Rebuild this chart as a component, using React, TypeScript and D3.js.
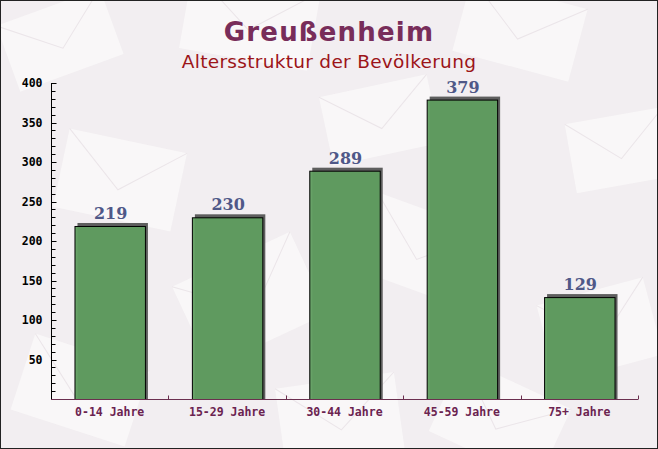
import React, { useEffect, useRef } from 'react';
import * as d3 from 'd3';

const categories = ['0-14 Jahre', '15-29 Jahre', '30-44 Jahre', '45-59 Jahre', '75+ Jahre'];
const values = [219, 230, 289, 379, 129];
const majorTicks = [50, 100, 150, 200, 250, 300, 350, 400];
const title = 'Greußenheim';
const subtitle = 'Altersstruktur der Bevölkerung';

// faint envelope shapes in the background: [cx, cy, w, h, angle]
const envelopes = [
  [60, 40, 110, 70, -20], [250, 20, 130, 80, 10], [520, 30, 120, 75, 15], [620, 150, 100, 70, -10],
  [120, 180, 120, 80, 12], [250, 300, 130, 90, -25], [420, 250, 120, 80, 20], [600, 330, 110, 80, -15],
  [80, 390, 120, 80, 18], [340, 420, 120, 80, -8], [500, 420, 120, 80, 25], [380, 120, 110, 70, -12],
];

export default function App() {
  const ref = useRef<SVGSVGElement>(null);

  useEffect(() => {
    if (!ref.current) return;
    const svg = d3.select(ref.current);
    svg.selectAll('*').remove();

    const width = 658;
    const height = 449;
    const margin = { top: 83, right: 20, bottom: 50, left: 51 };

    svg.append('rect').attr('width', width).attr('height', height).attr('fill', '#f2eef1');

    const bg = svg.append('g');
    envelopes.forEach(([cx, cy, w, h, a]) => {
      const g = bg.append('g').attr('transform', `translate(${cx},${cy}) rotate(${a})`);
      g.append('rect')
        .attr('x', -w / 2).attr('y', -h / 2).attr('width', w).attr('height', h)
        .attr('fill', '#fbf9fa').attr('opacity', 0.75);
      g.append('path')
        .attr('d', `M${-w / 2},${-h / 2} L0,${h / 8} L${w / 2},${-h / 2}`)
        .attr('fill', 'none').attr('stroke', '#ebe5e9').attr('stroke-width', 1);
    });

    const x = d3.scaleBand()
      .domain(categories)
      .range([margin.left, width - margin.right])
      .paddingInner(0.4)
      .paddingOuter(0.2);

    const y = d3.scaleLinear()
      .domain([0, 400])
      .range([height - margin.bottom, margin.top]);

    // bars with shadow
    const bars = svg.append('g');
    categories.forEach((c, i) => {
      const bx = x(c)!;
      const by = y(values[i]);
      const bw = x.bandwidth();
      const bh = y(0) - by;
      bars.append('rect')
        .attr('x', bx + 3).attr('y', by - 3)
        .attr('width', bw).attr('height', bh + 3)
        .attr('fill', '#5e5e5e');
      bars.append('rect')
        .attr('x', bx + 0.5).attr('y', by + 0.5)
        .attr('width', bw).attr('height', bh)
        .attr('fill', '#5f9d5f').attr('fill-opacity', 0.95)
        .attr('stroke', '#000').attr('stroke-width', 1);
      bars.append('text')
        .attr('x', bx + bw / 2 + 1).attr('y', by - 7)
        .attr('text-anchor', 'middle')
        .attr('font-family', '"DejaVu Serif", serif')
        .attr('font-weight', 'bold')
        .attr('font-size', 16)
        .attr('fill', '#4f5888')
        .text(values[i]);
    });

    // y axis
    const yAxis = svg.append('g').attr('transform', `translate(${margin.left + 0.5},0)`);
    yAxis.append('line')
      .attr('x1', 0).attr('x2', 0).attr('y1', y(400)).attr('y2', y(0))
      .attr('stroke', '#000');
    yAxis.selectAll('line.minor')
      .data(d3.range(10, 400, 10).filter(v => v % 50 !== 0))
      .join('line')
      .attr('class', 'minor')
      .attr('x1', 0).attr('x2', 4)
      .attr('y1', d => Math.round(y(d)) + 0.5).attr('y2', d => Math.round(y(d)) + 0.5)
      .attr('stroke', '#000');
    yAxis.selectAll('line.major')
      .data(majorTicks)
      .join('line')
      .attr('class', 'major')
      .attr('x1', 0).attr('x2', 5)
      .attr('y1', d => Math.round(y(d)) + 0.5).attr('y2', d => Math.round(y(d)) + 0.5)
      .attr('stroke', '#000');
    yAxis.selectAll('text')
      .data(majorTicks)
      .join('text')
      .attr('x', -9).attr('y', d => y(d) + 4)
      .attr('text-anchor', 'end')
      .attr('font-family', '"DejaVu Sans Mono", monospace')
      .attr('font-weight', 'bold')
      .attr('font-size', 11.5)
      .attr('fill', '#000')
      .text(d => d);

    // x axis
    const xAxis = svg.append('g').attr('transform', `translate(0,${y(0) + 0.5})`);
    xAxis.append('line')
      .attr('x1', margin.left).attr('x2', width - margin.right)
      .attr('stroke', '#6b2f4f');
    const bounds = d3.range(1, categories.length + 1)
      .map(i => margin.left + i * (width - margin.left - margin.right) / categories.length);
    xAxis.selectAll('line.tick')
      .data(bounds)
      .join('line')
      .attr('class', 'tick')
      .attr('x1', d => Math.round(d) + 0.5).attr('x2', d => Math.round(d) + 0.5)
      .attr('y1', 0).attr('y2', -4)
      .attr('stroke', '#6b2f4f');
    xAxis.selectAll('text')
      .data(categories)
      .join('text')
      .attr('x', d => x(d)! + x.bandwidth() / 2)
      .attr('y', 16)
      .attr('text-anchor', 'middle')
      .attr('font-family', '"DejaVu Sans Mono", monospace')
      .attr('font-weight', 'bold')
      .attr('font-size', 11.5)
      .attr('fill', '#6b2350')
      .text(d => d);

    // titles
    svg.append('text')
      .attr('x', width / 2).attr('y', 41)
      .attr('text-anchor', 'middle')
      .attr('font-family', '"DejaVu Sans", sans-serif')
      .attr('font-weight', 'bold')
      .attr('font-size', 26)
      .attr('letter-spacing', 1.2)
      .attr('fill', '#782d5a')
      .text(title);
    svg.append('text')
      .attr('x', width / 2).attr('y', 68)
      .attr('text-anchor', 'middle')
      .attr('font-family', '"DejaVu Sans", sans-serif')
      .attr('font-size', 18.5)
      .attr('letter-spacing', 0.3)
      .attr('fill', '#9c1418')
      .text(subtitle);

    // outer border
    svg.append('rect')
      .attr('x', 0.5).attr('y', 0.5).attr('width', width - 1).attr('height', height - 1)
      .attr('fill', 'none').attr('stroke', '#222');
  }, []);

  return (
    <svg
      ref={ref}
      width={658}
      height={449}
      style={{ position: 'absolute', left: 0, top: 0, display: 'block' }}
    />
  );
}
